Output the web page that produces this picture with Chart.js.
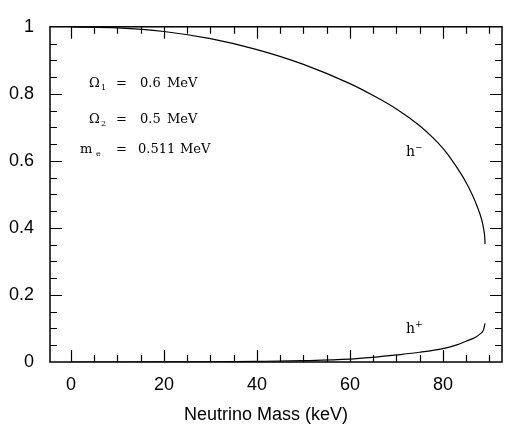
<!DOCTYPE html>
<html>
<head>
<meta charset="utf-8">
<script src="https://cdn.jsdelivr.net/npm/chart.js@4/dist/chart.umd.min.js"></script>
<style>
  body { margin: 0; background: #fff; }
  canvas { display: block; }
</style>
</head>
<body>
<canvas id="helicityChart" width="505" height="430"></canvas>
<script>
// values
var xTickValues = [0, 20, 40, 60, 80];
var yTickValues = [0, 0.2, 0.4, 0.6, 0.8, 1];

var hMinusMass = [0, 10, 20, 30, 40, 50, 60, 65, 70, 75, 78, 80, 82, 84, 85, 86, 87, 88, 88.5, 88.8, 89, 89.05];
var hMinusValues = [1.0, 0.997, 0.986, 0.9645, 0.932, 0.888, 0.8305, 0.795, 0.755, 0.705, 0.667, 0.637, 0.601, 0.559, 0.535, 0.508, 0.477, 0.44, 0.415, 0.393, 0.37, 0.352];

var hPlusMass = [0, 10, 20, 30, 40, 50, 60, 65, 70, 75, 80, 83, 85, 87, 88, 88.7, 89.05];
var hPlusValues = [0, 0, 0.0002, 0.0008, 0.002, 0.004, 0.0085, 0.014, 0.021, 0.029, 0.040, 0.051, 0.062, 0.074, 0.084, 0.095, 0.115];

var toPoints = function(xs, ys) {
    return xs.map(function(x, i) { return { x: x, y: ys[i] }; });
};

// frame, inward ticks and the text written on the plot
var framePlugin = {
    id: 'frame',
    afterDraw: function(chart) {
        var ctx = chart.ctx;
        var area = chart.chartArea;
        var xs = chart.scales.x;
        var ys = chart.scales.y;
        ctx.save();
        ctx.strokeStyle = '#000';
        ctx.lineWidth = 1.5;
        ctx.strokeRect(area.left, area.top, area.right - area.left, area.bottom - area.top);

        ctx.lineWidth = 1.2;
        ctx.beginPath();
        for (var v = 0; v <= xs.max; v += 5) {
            var px = Math.round(xs.getPixelForValue(v)) + 0.5;
            var len = (v % 20 === 0) ? 12 : 7;
            ctx.moveTo(px, area.bottom); ctx.lineTo(px, area.bottom - len);
            ctx.moveTo(px, area.top); ctx.lineTo(px, area.top + len);
        }
        for (var k = 1; k < 20; k++) {
            var py = Math.round(ys.getPixelForValue(k * 0.05)) + 0.5;
            var l2 = (k % 4 === 0) ? 12 : 7;
            ctx.moveTo(area.left, py); ctx.lineTo(area.left + l2, py);
            ctx.moveTo(area.right, py); ctx.lineTo(area.right - l2, py);
        }
        ctx.stroke();

        // axis title
        ctx.fillStyle = '#000';
        ctx.font = '18px "Liberation Sans", Arial, sans-serif';
        ctx.textAlign = 'center';
        ctx.textBaseline = 'middle';
        ctx.fillText('Neutrino Mass (keV)', 266, 415);

        // parameter notes
        ctx.textAlign = 'left';
        ctx.textBaseline = 'alphabetic';
        var serif = '"DejaVu Serif", "Liberation Serif", serif';
        var notes = [
            { sym: 'Ω', sub: '1', val: '0.6', y: 87, x: 89, subX: 101, eqX: 116, valX: 140, unitX: 167 },
            { sym: 'Ω', sub: '2', val: '0.5', y: 123, x: 89, subX: 101, eqX: 116, valX: 140, unitX: 167 },
            { sym: 'm', sub: 'e', val: '0.511', y: 153, x: 80, subX: 96, eqX: 116, valX: 138, unitX: 180 }
        ];
        notes.forEach(function(n) {
            ctx.font = '13px ' + serif;
            ctx.fillText(n.sym, n.x, n.y);
            ctx.fillText('=', n.eqX, n.y);
            ctx.fillText(n.val, n.valX, n.y);
            ctx.fillText('MeV', n.unitX, n.y);
            ctx.font = '8px ' + serif;
            ctx.fillText(n.sub, n.subX, n.y + 3);
        });

        // curve labels
        ctx.font = '14px ' + serif;
        ctx.fillText('h', 406, 156);
        ctx.fillText('h', 406, 333);
        ctx.font = '9px ' + serif;
        ctx.fillText('\u2212', 415, 150);
        ctx.fillText('+', 415, 327);
        ctx.restore();
    }
};

var ctx = document.getElementById('helicityChart').getContext('2d');
var helicityChart = new Chart(ctx, {
    type: 'line',
    data: {
        datasets: [{
            label: 'h-',
            data: toPoints(hMinusMass, hMinusValues),
            borderColor: '#000',
            borderWidth: 1.2,
            pointRadius: 0,
            fill: false,
            cubicInterpolationMode: 'monotone'
        }, {
            label: 'h+',
            data: toPoints(hPlusMass, hPlusValues),
            borderColor: '#000',
            borderWidth: 1.2,
            pointRadius: 0,
            fill: false,
            cubicInterpolationMode: 'monotone'
        }]
    },
    options: {
        responsive: false,
        animation: false,
        devicePixelRatio: 1,
        layout: {
            padding: { top: 9, right: 3, left: 0, bottom: 0 }
        },
        plugins: {
            legend: { display: false },
            tooltip: { enabled: false }
        },
        scales: {
            x: {
                type: 'linear',
                min: -4.5,
                max: 92.7,
                grid: { display: false, drawTicks: false },
                border: { display: false },
                ticks: {
                    color: '#000',
                    padding: 12,
                    maxRotation: 0,
                    autoSkip: false,
                    font: { family: '"Liberation Sans", Arial, sans-serif', size: 18 }
                },
                afterBuildTicks: function(scale) {
                    scale.ticks = xTickValues.map(function(v) { return { value: v }; });
                },
                afterFit: function(scale) { scale.height = 68; }
            },
            y: {
                type: 'linear',
                min: 0,
                max: 1,
                grid: { display: false, drawTicks: false },
                border: { display: false },
                ticks: {
                    color: '#000',
                    padding: 16,
                    autoSkip: false,
                    font: { family: '"Liberation Sans", Arial, sans-serif', size: 18 },
                    callback: function(v) { return String(v); }
                },
                afterBuildTicks: function(scale) {
                    scale.ticks = yTickValues.map(function(v) { return { value: v }; });
                },
                afterFit: function(scale) { scale.width = 50; }
            }
        }
    },
    plugins: [framePlugin]
});
</script>
</body>
</html>
